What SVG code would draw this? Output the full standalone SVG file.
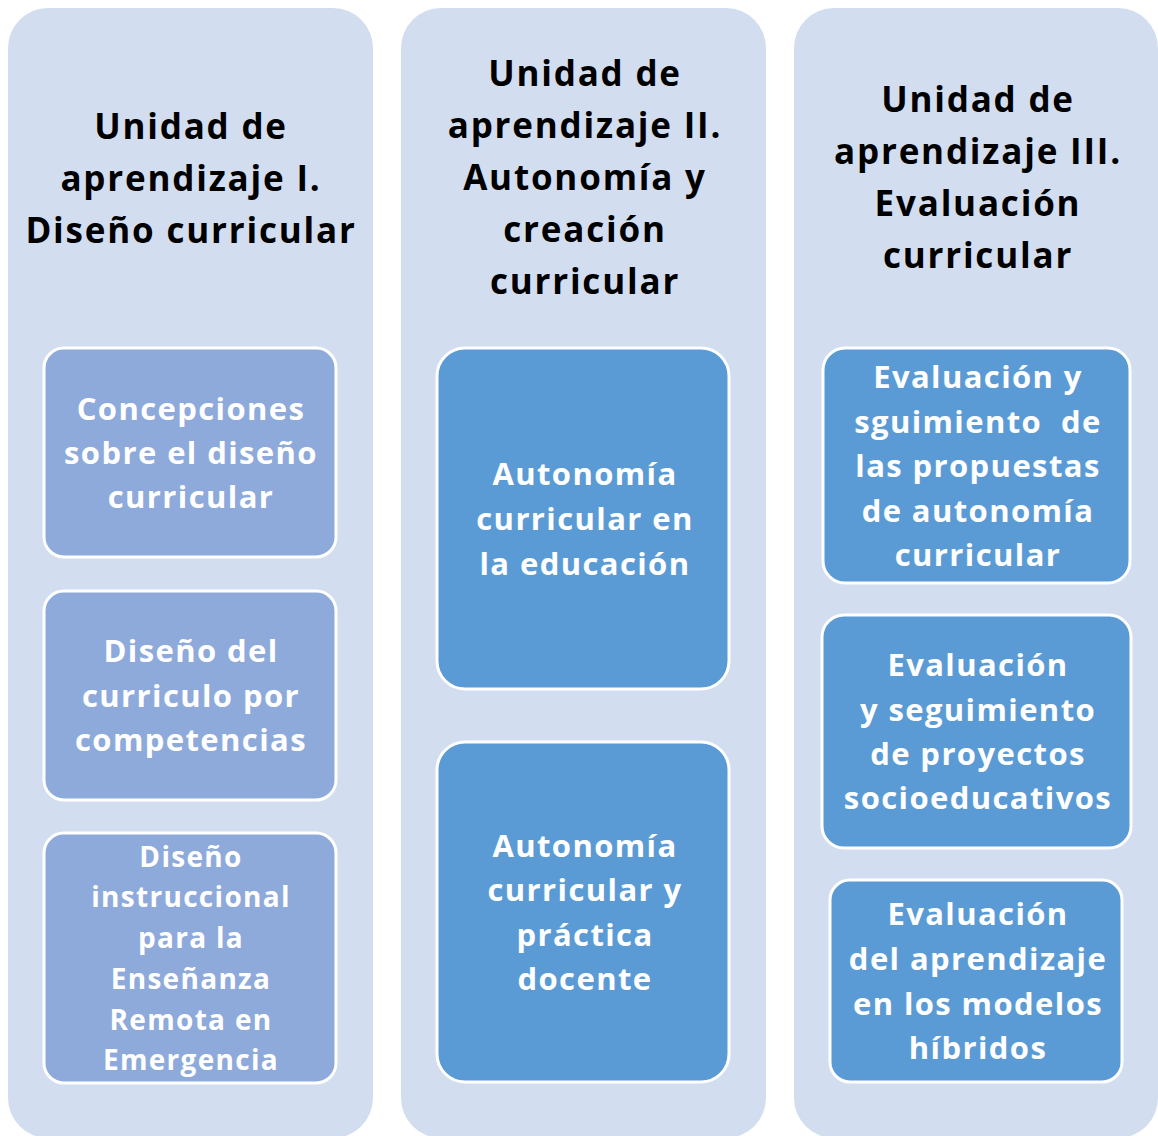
<svg xmlns="http://www.w3.org/2000/svg" width="1158" height="1136" viewBox="0 0 1158 1136">
<style>
.col{fill:#D2DEEF}
.b1{fill:#8EAADB;stroke:#FFFFFF;stroke-width:3}
.b2{fill:#5B9BD5;stroke:#FFFFFF;stroke-width:3}
.t{font-family:"Open Sans","Liberation Sans",sans-serif;font-weight:700;text-anchor:middle}
.h{font-size:35px;fill:#000000;letter-spacing:1.8px}
.w{font-size:31px;fill:#FFFFFF;letter-spacing:1.4px}
.s{font-size:28px;fill:#FFFFFF;letter-spacing:1.3px}
</style>
<rect width="1158" height="1136" fill="#FFFFFF"/>
<g id="col1">
<rect class="col" x="8" y="8" width="365" height="1130" rx="40"/>
<text class="t h"><tspan x="191" y="139">Unidad de</tspan><tspan x="191" y="191">aprendizaje I.</tspan><tspan x="191" y="243">Diseño curricular</tspan></text>
</g>
<g id="col2">
<rect class="col" x="401" y="8" width="365" height="1130" rx="40"/>
<text class="t h"><tspan x="585" y="86">Unidad de</tspan><tspan x="585" y="138">aprendizaje II.</tspan><tspan x="585" y="190">Autonomía y</tspan><tspan x="585" y="242">creación</tspan><tspan x="585" y="294">curricular</tspan></text>
</g>
<g id="col3">
<rect class="col" x="794" y="8" width="364" height="1130" rx="40"/>
<text class="t h"><tspan x="978" y="112">Unidad de</tspan><tspan x="978" y="164">aprendizaje III.</tspan><tspan x="978" y="216">Evaluación</tspan><tspan x="978" y="268">curricular</tspan></text>
</g>
<g id="n1">
<rect class="b1" x="44" y="348" width="292" height="209" rx="20"/>
<text class="t w"><tspan x="191" y="420">Concepciones</tspan><tspan x="191" y="464">sobre el diseño</tspan><tspan x="191" y="508">curricular</tspan></text>
</g>
<g id="n2">
<rect class="b1" x="44" y="591" width="292" height="209" rx="20"/>
<text class="t w"><tspan x="191" y="662">Diseño del</tspan><tspan x="191" y="707">curriculo por</tspan><tspan x="191" y="751">competencias</tspan></text>
</g>
<g id="n3">
<rect class="b1" x="44" y="833" width="292" height="250" rx="20"/>
<text class="t s"><tspan x="191" y="867">Diseño</tspan><tspan x="191" y="907">instruccional</tspan><tspan x="191" y="948">para la</tspan><tspan x="191" y="989">Enseñanza</tspan><tspan x="191" y="1030">Remota en</tspan><tspan x="191" y="1070">Emergencia</tspan></text>
</g>
<g id="n4">
<rect class="b2" x="437" y="348" width="292" height="341" rx="28"/>
<text class="t w"><tspan x="585" y="485">Autonomía</tspan><tspan x="585" y="530">curricular en</tspan><tspan x="585" y="575">la educación</tspan></text>
</g>
<g id="n5">
<rect class="b2" x="437" y="742" width="292" height="340" rx="28"/>
<text class="t w"><tspan x="585" y="857">Autonomía</tspan><tspan x="585" y="901">curricular y</tspan><tspan x="585" y="946">práctica</tspan><tspan x="585" y="990">docente</tspan></text>
</g>
<g id="n6">
<rect class="b2" x="823" y="348" width="307" height="235" rx="22"/>
<text class="t w"><tspan x="978" y="388">Evaluación y</tspan><tspan x="978" y="433" xml:space="preserve">sguimiento  de</tspan><tspan x="978" y="477">las propuestas</tspan><tspan x="978" y="522">de autonomía</tspan><tspan x="978" y="566">curricular</tspan></text>
</g>
<g id="n7">
<rect class="b2" x="822" y="615" width="309" height="233" rx="22"/>
<text class="t w"><tspan x="978" y="676">Evaluación</tspan><tspan x="978" y="721">y seguimiento</tspan><tspan x="978" y="765">de proyectos</tspan><tspan x="978" y="809">socioeducativos</tspan></text>
</g>
<g id="n8">
<rect class="b2" x="830" y="880" width="292" height="202" rx="20"/>
<text class="t w"><tspan x="978" y="925">Evaluación</tspan><tspan x="978" y="970">del aprendizaje</tspan><tspan x="978" y="1015">en los modelos</tspan><tspan x="978" y="1059">híbridos</tspan></text>
</g>
<g id="connectors"></g>
</svg>
